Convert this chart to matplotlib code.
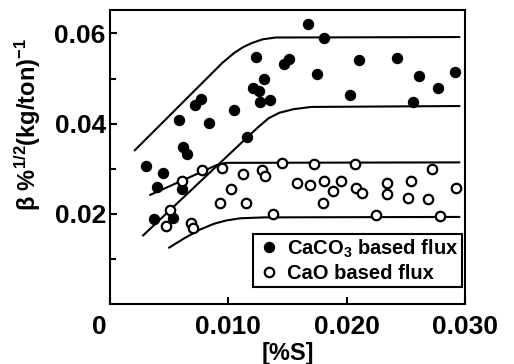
import matplotlib.pyplot as plt
import matplotlib.transforms as mtransforms

plt.rcParams['font.family'] = ['Liberation Sans', 'DejaVu Sans']
plt.rcParams['font.weight'] = 'bold'
plt.rcParams['axes.labelweight'] = 'bold'
plt.rcParams['mathtext.fontset'] = 'custom'
plt.rcParams['mathtext.rm'] = 'Liberation Sans:bold'
plt.rcParams['mathtext.it'] = 'Liberation Sans:bold'
plt.rcParams['mathtext.bf'] = 'Liberation Sans:bold'

# CaCO3 based flux (filled)
caco3_s = [0.00306, 0.00446, 0.0040, 0.0037, 0.0053, 0.0058, 0.0062, 0.0065, 0.0061,
           0.0072, 0.0077, 0.0084, 0.0105, 0.0116, 0.0123, 0.0121, 0.0126, 0.0130,
           0.0127, 0.0135, 0.0147, 0.0151, 0.0167, 0.0181, 0.0175, 0.0203, 0.0210,
           0.0242, 0.0256, 0.0261, 0.0277, 0.0291]
caco3_b = [0.0307, 0.0290, 0.0259, 0.0189, 0.0191, 0.0409, 0.0348, 0.0332, 0.0256,
           0.0441, 0.0454, 0.0402, 0.0430, 0.0370, 0.0548, 0.0480, 0.0473, 0.0500,
           0.0448, 0.0452, 0.0533, 0.0543, 0.0622, 0.0590, 0.0510, 0.0463, 0.0541,
           0.0546, 0.0448, 0.0505, 0.0478, 0.0515]

# CaO based flux (open)
cao_s = [0.0047, 0.0051, 0.0061, 0.0068, 0.0070, 0.0078, 0.0095, 0.0093, 0.0102,
         0.0112, 0.0115, 0.0128, 0.0131, 0.0138, 0.0145, 0.0158, 0.0169, 0.0172,
         0.0181, 0.0180, 0.0188, 0.0195, 0.0207, 0.0208, 0.0213, 0.0225, 0.0234,
         0.0234, 0.0252, 0.0254, 0.0269, 0.0272, 0.0279, 0.0292]
cao_b = [0.0172, 0.0209, 0.0272, 0.0180, 0.0169, 0.0296, 0.0301, 0.0224, 0.0256,
         0.0289, 0.0224, 0.0296, 0.0284, 0.0200, 0.0313, 0.0268, 0.0263, 0.0311,
         0.0272, 0.0224, 0.0250, 0.0272, 0.0311, 0.0257, 0.0246, 0.0198, 0.0269,
         0.0244, 0.0236, 0.0273, 0.0233, 0.0300, 0.0195, 0.0257]

# band boundaries
up1_s = [0.0021, 0.0095, 0.0105, 0.0112, 0.0120, 0.0129, 0.0140, 0.0295]
up1_b = [0.0341, 0.0535, 0.0557, 0.0569, 0.0579, 0.0587, 0.0591, 0.0592]
lo1_s = [0.0028, 0.0110, 0.0118, 0.0126, 0.0134, 0.0143, 0.0155, 0.0170, 0.0295]
lo1_b = [0.0152, 0.0355, 0.0375, 0.0394, 0.0412, 0.0424, 0.0432, 0.0437, 0.0439]
up2_s = [0.0034, 0.0080, 0.0090, 0.0098, 0.0295]
up2_b = [0.0242, 0.0296, 0.0308, 0.0313, 0.0314]
lo2_s = [0.0050, 0.0063, 0.0076, 0.0088, 0.0098, 0.0110, 0.0130, 0.0295]
lo2_b = [0.0125, 0.0146, 0.0165, 0.0178, 0.0185, 0.0190, 0.0192, 0.0193]

fig = plt.figure(figsize=(5.14, 3.64), dpi=100)
ax = fig.add_axes([0.214, 0.165, 0.691, 0.8075])

for xs, ys in [(up1_s, up1_b), (lo1_s, lo1_b), (up2_s, up2_b), (lo2_s, lo2_b)]:
    ax.plot(xs, ys, color='black', lw=1.5, zorder=2)

ax.plot(caco3_s, caco3_b, 'o', color='black', ms=7.2, ls='none', zorder=3,
        label='CaCO$_3$ based flux')
ax.plot(cao_s, cao_b, 'o', mfc='white', mec='black', mew=1.6, ms=6.8, ls='none',
        zorder=3, label='CaO based flux')

ax.set_xlim(0, 0.030)
ax.set_ylim(0, 0.0652)
ax.set_xticks([0, 0.010, 0.020, 0.030])
ax.set_xticklabels(['0', '0.010', '0.020', '0.030'])
ax.set_yticks([0.02, 0.04, 0.06])
ax.set_yticklabels(['0.02', '0.04', '0.06'])
ax.set_yticks([0.01, 0.03, 0.05], minor=True)
ax.tick_params(axis='both', which='both', direction='in', width=1.5, labelsize=19)
ax.tick_params(axis='y', which='major', length=5, pad=3)
ax.tick_params(axis='y', which='minor', length=4)
ax.tick_params(axis='x', which='major', length=5, pad=8)
for sp in ax.spines.values():
    sp.set_linewidth(1.5)

# the "0" sits left of the corner
lab0 = ax.get_xticklabels()[0]
lab0.set_transform(lab0.get_transform() + mtransforms.ScaledTranslation(-0.11, 0, fig.dpi_scale_trans))

ax.set_xlabel('[%S]', fontsize=17, labelpad=2)
ax.set_ylabel('β %$^{1/2}$(kg/ton)$^{-1}$', fontsize=17)
ax.yaxis.set_label_coords(-0.19, 0.61)

leg = ax.legend(loc='lower right', bbox_to_anchor=(0.992, 0.058), fontsize=14.5,
                frameon=True, fancybox=False, edgecolor='black', framealpha=1,
                handletextpad=0.3, borderpad=0.2, labelspacing=0.2, handlelength=1.2,
                borderaxespad=0)
leg.get_frame().set_linewidth(1.5)

plt.savefig('out.png', dpi=100)
